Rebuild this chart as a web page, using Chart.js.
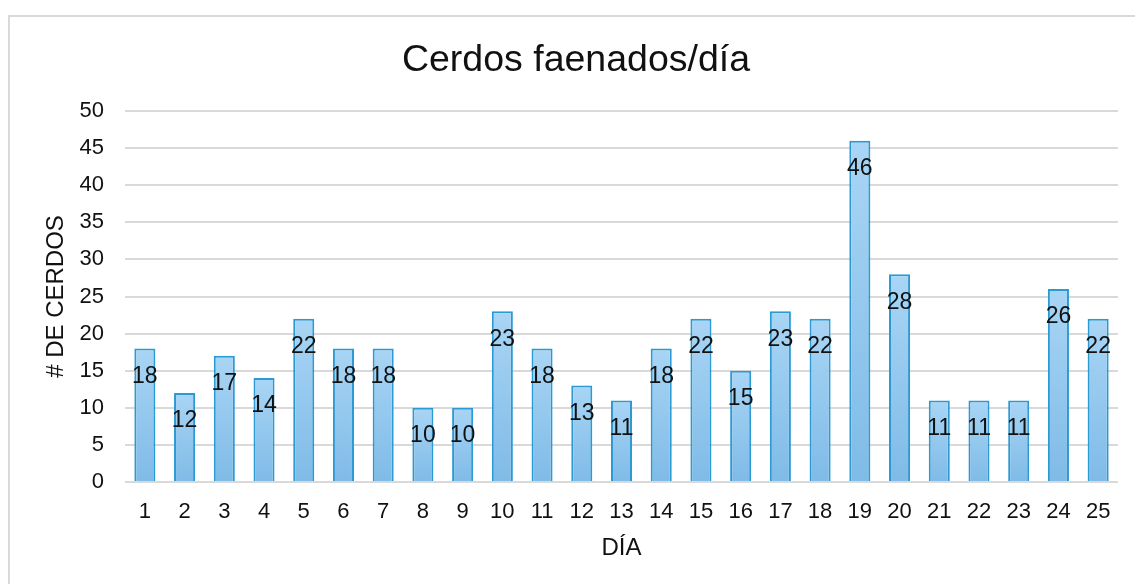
<!DOCTYPE html>
<html>
<head>
<meta charset="utf-8">
<title>Cerdos faenados/día</title>
<script src="https://cdn.jsdelivr.net/npm/chart.js@4/dist/chart.umd.min.js"></script>
<style>
  html, body { margin: 0; padding: 0; background: #fff; overflow: hidden; }
  #wrap { position: relative; width: 1135px; height: 584px; }
  #frame {
    position: absolute; left: 8px; top: 15px; width: 1140px; height: 620px;
    border: 2px solid #d9d9d9; box-sizing: border-box;
  }
  canvas { position: absolute; left: 0; top: 0; }
</style>
</head>
<body>
<div id="wrap">
  <div id="frame"></div>
  <canvas id="c" width="1135" height="584"></canvas>
</div>
<script>
// Days and number of pigs slaughtered per day
const dias = ['1','2','3','4','5','6','7','8','9','10','11','12','13','14','15','16','17','18','19','20','21','22','23','24','25'];
const cerdos = [18, 12, 17, 14, 22, 18, 18, 10, 10, 23, 18, 13, 11, 18, 22, 15, 23, 22, 46, 28, 11, 11, 11, 26, 22];
const yMin = 0;
const yMax = 50;
const yStep = 5;

const FONT = '"Liberation Sans", Arial, sans-serif';

// Vertical gradient for each bar, lighter at the top
function barFill(ctx) {
  const chart = ctx.chart;
  const y = chart.scales && chart.scales.y;
  if (!y || ctx.dataIndex === undefined || !chart.chartArea) return '#92c7ee';
  const top = y.getPixelForValue(cerdos[ctx.dataIndex]);
  const bottom = y.getPixelForValue(0);
  if (!isFinite(top) || !isFinite(bottom) || top === bottom) return '#92c7ee';
  const g = chart.ctx.createLinearGradient(0, top, 0, bottom);
  g.addColorStop(0, '#a9d5f5');
  g.addColorStop(1, '#7fbbe7');
  return g;
}

// Value labels just inside the top of each bar
const valueLabels = {
  id: 'valueLabels',
  afterDatasetsDraw(chart) {
    const ctx = chart.ctx;
    const meta = chart.getDatasetMeta(0);
    ctx.save();
    ctx.font = '23px ' + FONT;
    ctx.fillStyle = '#111';
    ctx.textAlign = 'center';
    ctx.textBaseline = 'middle';
    meta.data.forEach((bar, i) => {
      ctx.fillText(String(chart.data.datasets[0].data[i]), bar.x, bar.y + 28);
    });
    ctx.restore();
  }
};

// Centre the title over the framed chart box rather than the canvas
const titleShift = {
  id: 'titleShift',
  afterLayout(chart) {
    if (chart.titleBlock) chart.titleBlock.left += 34;
  }
};

new Chart(document.getElementById('c'), {
  type: 'bar',
  data: {
    labels: dias,
    datasets: [{
      data: cerdos,
      backgroundColor: barFill,
      borderColor: '#2b9ad4',
      borderWidth: 2,
      borderSkipped: 'bottom',
      categoryPercentage: 1,
      barPercentage: 0.53
    }]
  },
  options: {
    responsive: false,
    animation: false,
    devicePixelRatio: 1,
    layout: { padding: { left: 0, right: 17, top: 0, bottom: 0 } },
    plugins: {
      legend: { display: false },
      tooltip: { enabled: false },
      title: {
        display: true,
        text: 'Cerdos faenados/día',
        color: '#111',
        font: { family: FONT, size: 37.5, weight: 'normal' },
        padding: { top: 38, bottom: 28 }
      }
    },
    scales: {
      x: {
        grid: { display: false },
        border: { display: false },
        ticks: {
          color: '#111',
          font: { family: FONT, size: 22 },
          padding: 9,
          maxRotation: 0,
          autoSkip: false
        },
        title: {
          display: true,
          text: 'DÍA',
          color: '#111',
          font: { family: FONT, size: 24 },
          padding: { top: 0, bottom: 21 }
        },
        afterFit(scale) { scale.height = 102; }
      },
      y: {
        min: yMin,
        max: yMax,
        grid: { color: '#d9d9d9', lineWidth: 2, drawTicks: false },
        border: { display: false },
        ticks: {
          stepSize: yStep,
          color: '#111',
          font: { family: FONT, size: 22 },
          padding: 21
        },
        title: {
          display: true,
          text: '# DE CERDOS',
          color: '#111',
          font: { family: FONT, size: 24 },
          padding: { top: 41.6, bottom: 0 }
        },
        afterFit(scale) { scale.width = 125; }
      }
    }
  },
  plugins: [valueLabels, titleShift]
});
</script>
</body>
</html>
